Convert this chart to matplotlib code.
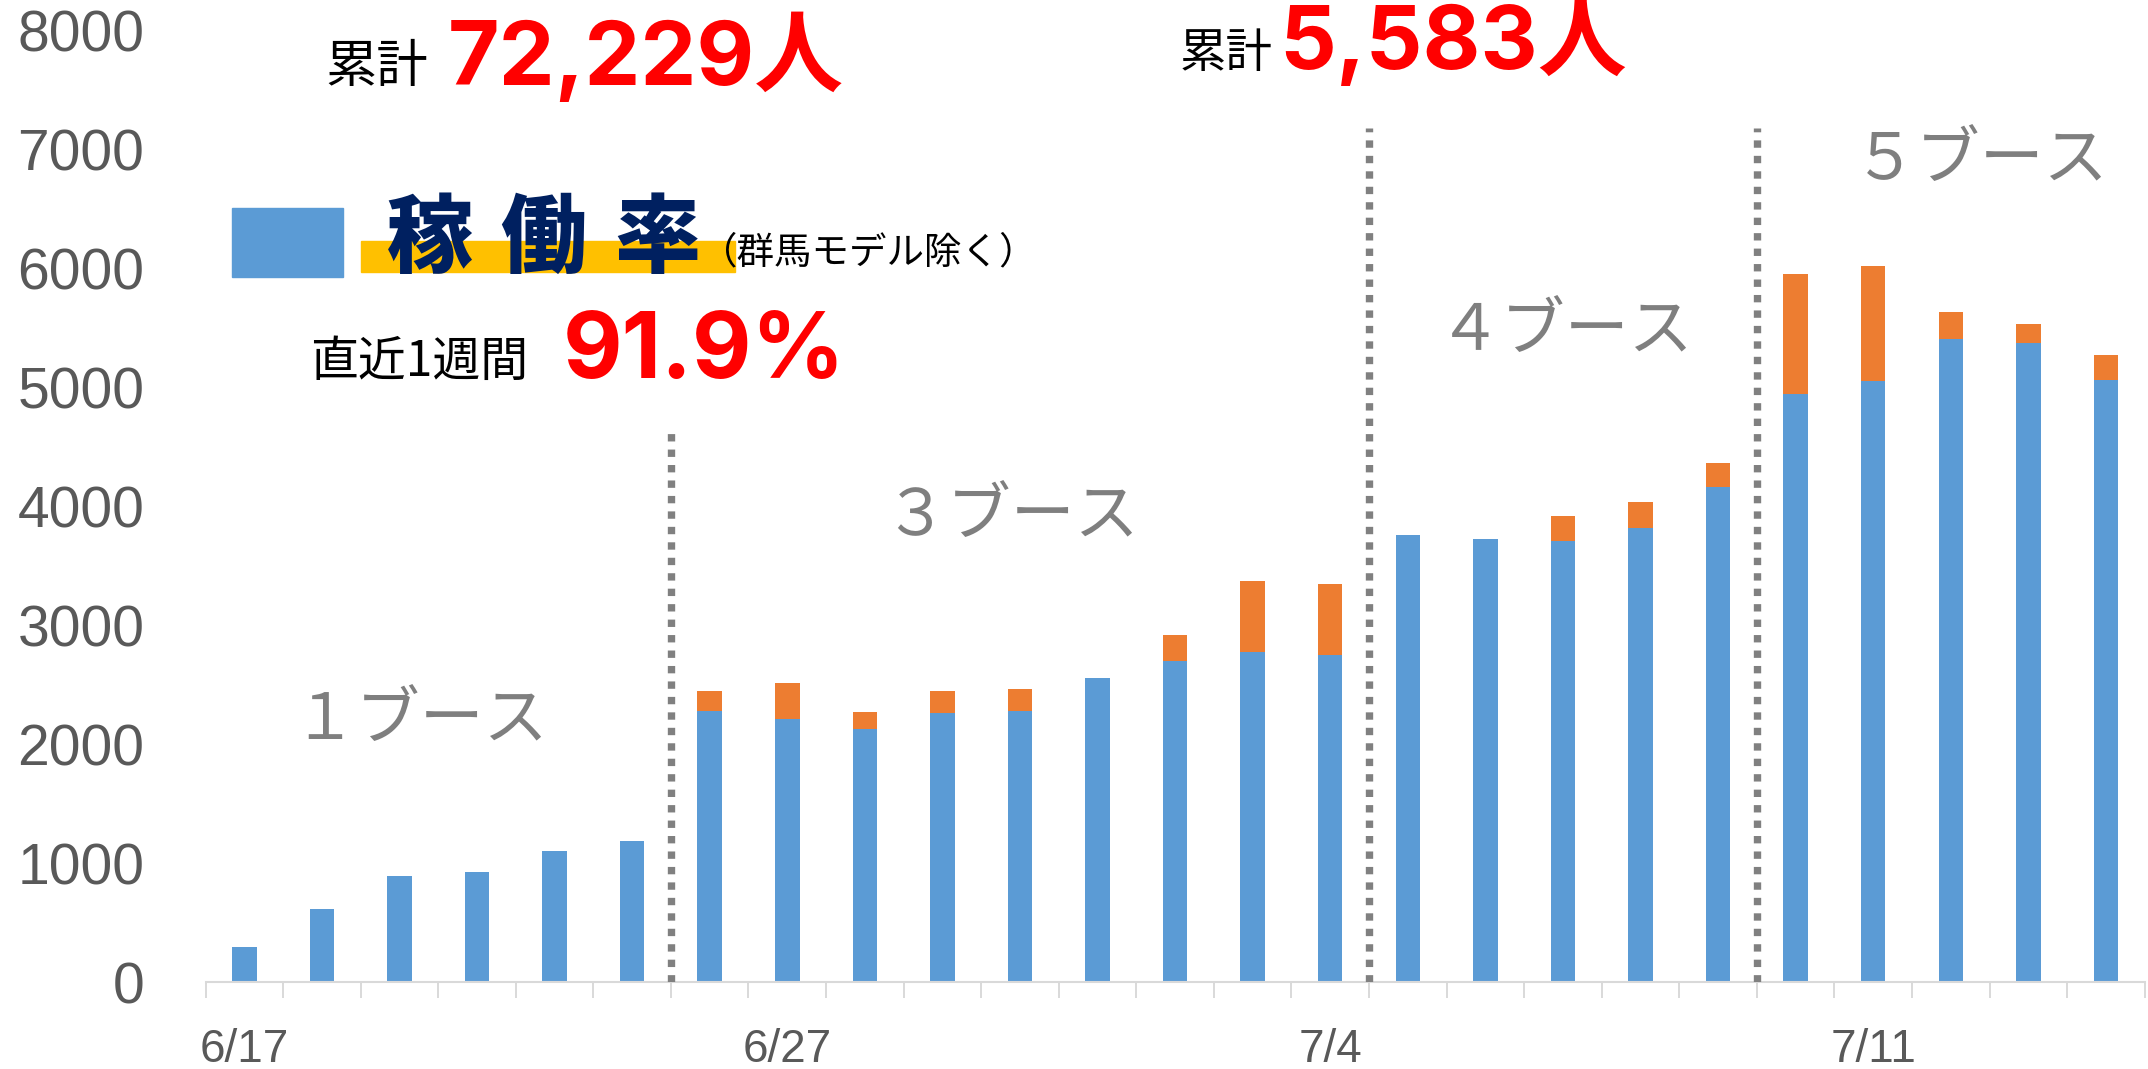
import numpy as np
import matplotlib
matplotlib.use("Agg")
import matplotlib.pyplot as plt
from matplotlib.patches import Rectangle

plt.rcParams['font.family'] = ['Liberation Sans', 'Noto Sans CJK JP', 'DejaVu Sans']

# daily counts, one entry per bar (25 days)
blue_vals = [296, 610, 893, 926, 1100, 1190,
             2280, 2212, 2130, 2265, 2283, 2553, 2699, 2775, 2752,
             3759, 3730, 3708, 3815, 4163,
             4948, 5056, 5411, 5378, 5065]
orange_vals = [0, 0, 0, 0, 0, 0,
               166, 303, 143, 179, 181, 0, 216, 601, 593,
               0, 0, 208, 218, 205,
               1004, 962, 223, 160, 209]
tick_pos = [0, 7, 14, 21]
tick_labels = ['6/17', '6/27', '7/4', '7/11']

# booth periods: separator position, line top, label
sep_pos = [5.5, 14.5, 19.5]
sep_top = [4660, 7180, 7180]
booth_labels = ['１ブース', '３ブース', '４ブース', '５ブース']
booth_xy = [(2.26, 2195), (9.88, 3911), (17.04, 5467), (22.39, 6905)]

BLUE = '#5B9BD5'
ORANGE = '#ED7D31'
W, H = 2148, 1069

fig = plt.figure(figsize=(W / 100, H / 100), dpi=100)
ax = fig.add_axes([205.5 / W, 1 - 982 / H, (2144.7 - 205.5) / W, (982 - 30.8) / H])

x = np.arange(len(blue_vals))
ax.bar(x, blue_vals, width=0.316, color=BLUE, zorder=2)
ax.bar(x, orange_vals, width=0.316, bottom=blue_vals, color=ORANGE, zorder=2)

ax.set_xlim(-0.5, len(blue_vals) - 0.5)
ax.set_ylim(0, 8000)
ax.set_yticks(np.arange(0, 8001, 1000))
ax.set_xticks(tick_pos)
ax.set_xticklabels(tick_labels)
ax.set_xticks(np.arange(-0.5, len(blue_vals)), minor=True)

for s in ['left', 'top', 'right']:
    ax.spines[s].set_visible(False)
ax.spines['bottom'].set_color('#D9D9D9')
ax.spines['bottom'].set_linewidth(1.5)
ax.tick_params(axis='y', length=0, pad=44, labelsize=41, labelcolor='#595959')
ax.tick_params(axis='x', which='major', length=0, pad=33, labelsize=33, labelcolor='#595959')
ax.tick_params(axis='x', which='minor', length=11.5, width=1.4, color='#D9D9D9')

# dotted separators between booth periods
ax.vlines(sep_pos, 0, sep_top, colors='#808080', linewidth=5.3,
          linestyles=[(0, (1.0, 1.1))], zorder=3)

for (bx, by), lab in zip(booth_xy, booth_labels):
    ax.text(bx, by, lab, ha='center', va='center', fontsize=46,
            color='#7F7F7F', family=['Noto Sans CJK JP'])

# headline texts (pixel positions converted to figure fraction)
def fx(px):
    return px / W

def fy(py):
    return 1 - py / H

cjk = ['Noto Sans CJK JP']
num = ['Inter', 'Noto Sans CJK JP']

fig.text(fx(325), fy(82), '累計', fontsize=37, family=cjk, va='baseline')
fig.text(fx(448), fy(85), '72,229人', fontsize=64, color='red', fontweight='bold',
         family=num, va='baseline')
fig.text(fx(1180), fy(67), '累計', fontsize=33.5, family=cjk, va='baseline')
fig.text(fx(1279), fy(69), '5,583人', fontsize=64, color='red', fontweight='bold',
         family=num, va='baseline')

fig.patches.append(Rectangle((fx(232), fy(277)), fx(343) - fx(232), fy(208) - fy(277),
                             transform=fig.transFigure, color=BLUE))
fig.patches.append(Rectangle((fx(361), fy(272)), fx(735) - fx(361), fy(241) - fy(272),
                             transform=fig.transFigure, color='#FFC000'))
for cx, ch in zip([430, 543, 657], '稼働率'):
    fig.text(fx(cx), fy(266), ch, fontsize=62, color='#002060', fontweight='black',
             family=cjk, ha='center', va='baseline')
fig.text(fx(700), fy(263), '（群馬モデル除く）', fontsize=27, family=cjk, va='baseline')

fig.text(fx(310), fy(376), '直近1週間', fontsize=34.5, family=cjk, va='baseline')
fig.text(fx(563), fy(378), '91.9%', fontsize=66, color='red', fontweight='bold',
         family=num, va='baseline')

fig.savefig('out.png', dpi=100, facecolor='white')
